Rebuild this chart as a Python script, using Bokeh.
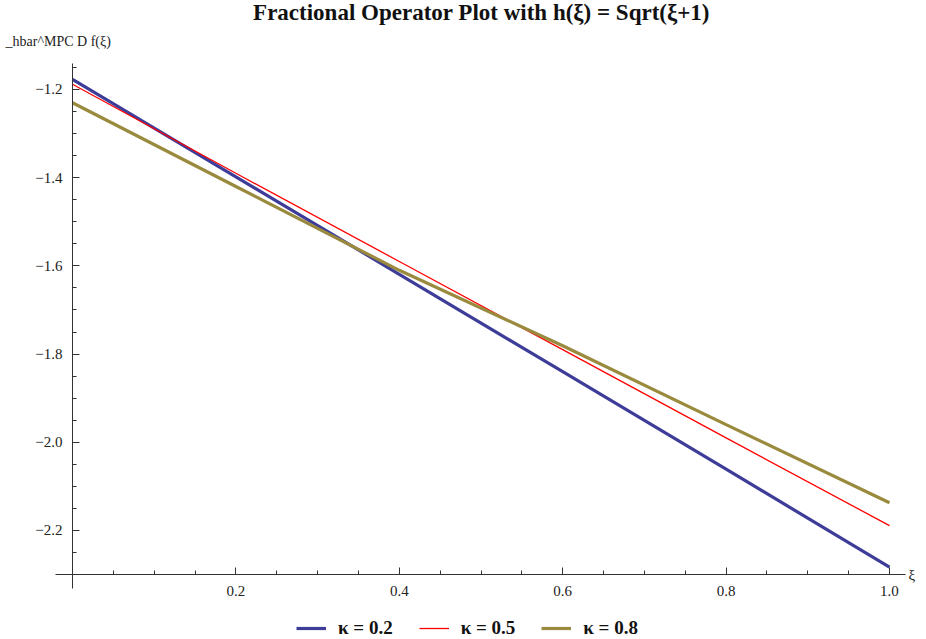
from bokeh.plotting import figure
from bokeh.models import (LinearAxis, FixedTicker, CustomJSTickFormatter, Range1d,
                          Legend, LegendItem, Label)
from bokeh.embed import file_html
from bokeh.resources import INLINE

# ---- data ----
xi = [0.0, 0.2, 0.4, 0.6, 0.8, 1.0]
kappa_02 = [-1.177, -1.398, -1.619, -1.840, -2.061, -2.283]
kappa_05 = [-1.188, -1.390, -1.590, -1.790, -1.990, -2.189]
kappa_08 = [-1.230, -1.420, -1.610, -1.781, -1.960, -2.137]
series_labels = ["κ = 0.2", "κ = 0.5", "κ = 0.8"]

x_major = [0.2, 0.4, 0.6, 0.8, 1.0]
x_minor = [0.05, 0.1, 0.15, 0.25, 0.3, 0.35, 0.45, 0.5, 0.55,
           0.65, 0.7, 0.75, 0.85, 0.9, 0.95]
y_major = [-2.2, -2.0, -1.8, -1.6, -1.4, -1.2]
y_minor = [-2.25, -2.15, -2.1, -2.05, -1.95, -1.9, -1.85, -1.75, -1.7, -1.65,
           -1.55, -1.5, -1.45, -1.35, -1.3, -1.25, -1.15]

title_text = "Fractional Operator Plot with h(ξ) = Sqrt(ξ+1)"
ylabel_text = "_hbar^MPC D f(ξ)"
xlabel_text = "ξ"

SERIF = "Liberation Serif"
colors = ["#3D3D99", "#FF0000", "#998A3D"]
widths = [3.2, 1.3, 3.2]

p = figure(width=926, height=639, output_backend="svg", toolbar_location=None,
           x_axis_location=None, y_axis_location=None,
           x_range=Range1d(-0.08813, 1.04529), y_range=Range1d(-2.44717, -0.99819),
           min_border_left=0, min_border_right=0, min_border_bottom=0,
           min_border_top=0)
p.grid.visible = False
p.outline_line_color = None
p.background_fill_color = "white"
p.border_fill_color = "white"

fmt = CustomJSTickFormatter(code="""
    const s = Math.abs(tick).toFixed(1);
    return (tick < 0 ? '\\u2212' : '') + s;
""")

yax = LinearAxis(fixed_location=0, bounds=(-2.3315, -1.141),
                 ticker=FixedTicker(ticks=y_major, minor_ticks=y_minor),
                 formatter=fmt)
xax = LinearAxis(fixed_location=-2.3, bounds=(-0.0208, 1.0196),
                 ticker=FixedTicker(ticks=x_major, minor_ticks=x_minor),
                 formatter=fmt)
for ax in (xax, yax):
    ax.axis_line_color = "#333333"
    ax.axis_line_width = 1
    ax.major_tick_in = 7
    ax.major_tick_out = 0
    ax.minor_tick_in = 4
    ax.minor_tick_out = 0
    ax.major_tick_line_color = "#333333"
    ax.minor_tick_line_color = "#333333"
    ax.major_label_text_font = SERIF
    ax.major_label_text_font_size = "15px"
    ax.major_label_text_color = "#222222"
yax.major_label_standoff = 10
xax.major_label_standoff = 11
p.add_layout(yax, "left")
p.add_layout(xax, "below")

renderers = []
for ys, c, w in zip([kappa_02, kappa_05, kappa_08], colors, widths):
    r = p.line(xi, ys, line_color=c, line_width=w)
    renderers.append(r)

legend = Legend(items=[LegendItem(label=lab, renderers=[r])
                       for lab, r in zip(series_labels, renderers)],
                orientation="horizontal", location=(296, 0),
                background_fill_alpha=0, border_line_color=None,
                padding=0, margin=0, spacing=26, glyph_width=30,
                label_standoff=12,
                label_text_font=SERIF, label_text_font_style="bold",
                label_text_font_size="19px", label_text_color="#111111")
p.add_layout(legend, "center")

p.add_layout(Label(x=1.0233, y=-2.3, text=xlabel_text, text_align="left",
                   text_baseline="middle", text_font=SERIF,
                   text_font_size="15px", text_color="#222222"))
p.add_layout(Label(x=-0.082, y=-1.0912, text=ylabel_text, text_align="left",
                   text_baseline="middle", text_font=SERIF,
                   text_font_size="14px", text_color="#222222"))
p.add_layout(Label(x=0.5006, y=-1.0254, text=title_text, text_align="center",
                   text_baseline="middle", text_font=SERIF,
                   text_font_style="bold", text_font_size="23px",
                   text_color="#111111"))

open("out.html", "w").write(file_html(p, INLINE))
